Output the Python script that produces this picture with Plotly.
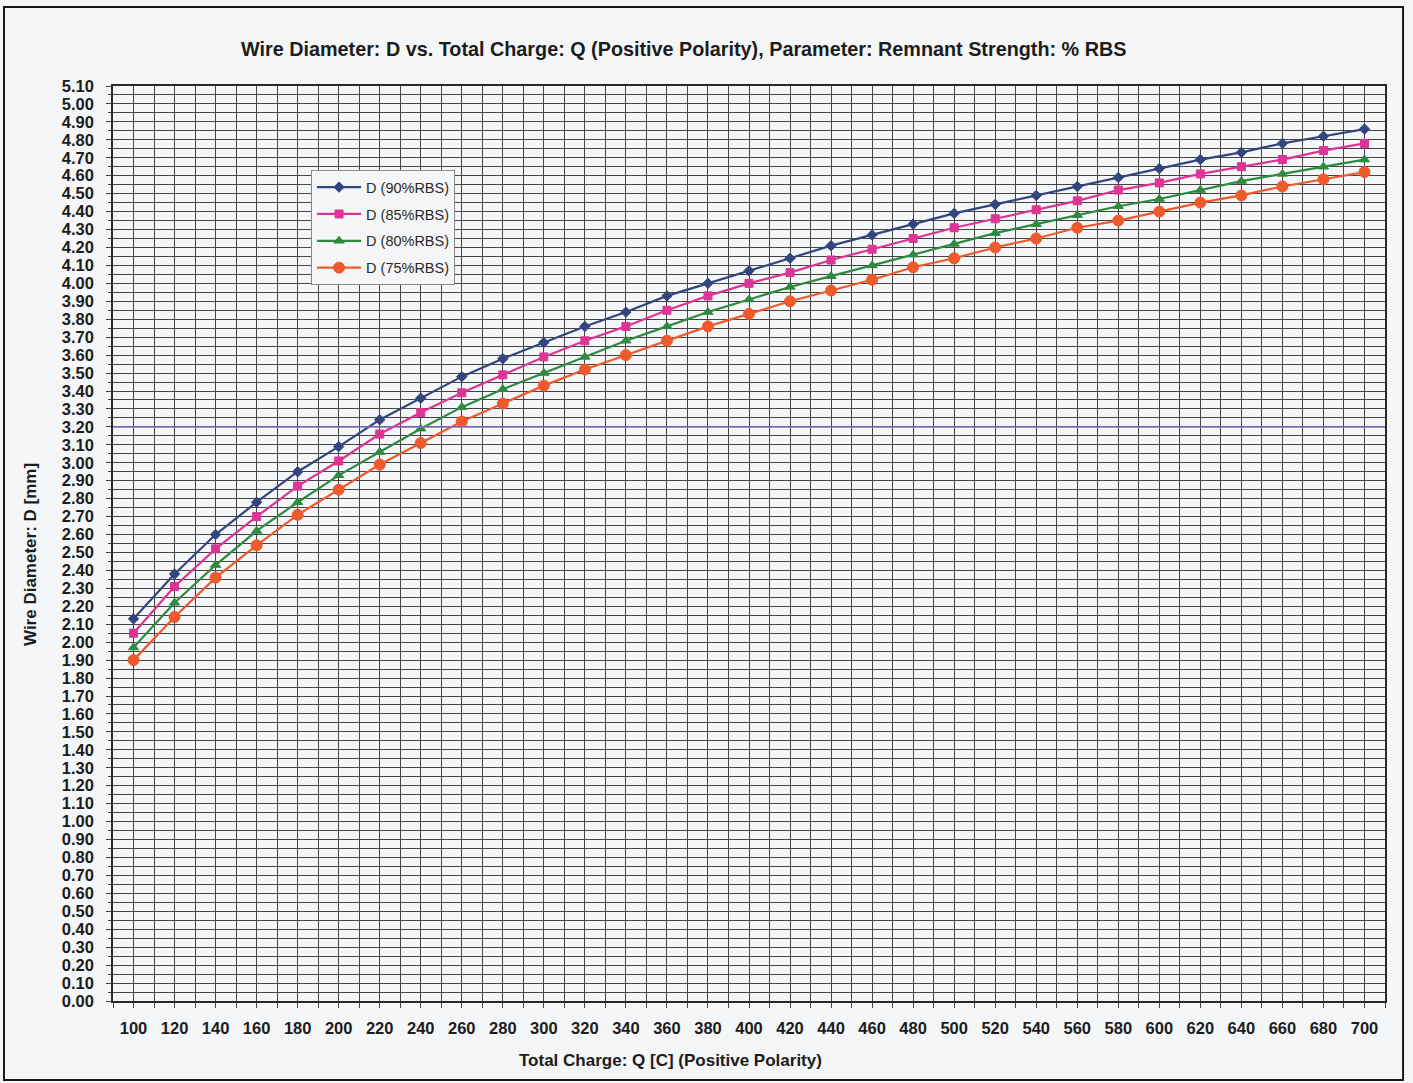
import plotly.graph_objects as go

# ---- data ----
Q = [100, 120, 140, 160, 180, 200, 220, 240, 260, 280, 300, 320, 340, 360, 380,
     400, 420, 440, 460, 480, 500, 520, 540, 560, 580, 600, 620, 640, 660, 680, 700]

D90 = [2.13, 2.38, 2.60, 2.78, 2.95, 3.09, 3.24, 3.36, 3.48, 3.58, 3.67, 3.76, 3.84, 3.93, 4.00,
       4.07, 4.14, 4.21, 4.27, 4.33, 4.39, 4.44, 4.49, 4.54, 4.59, 4.64, 4.69, 4.73, 4.78, 4.82, 4.86]
D85 = [2.05, 2.31, 2.52, 2.70, 2.87, 3.01, 3.16, 3.28, 3.39, 3.49, 3.59, 3.68, 3.76, 3.85, 3.93,
       4.00, 4.06, 4.13, 4.19, 4.25, 4.31, 4.36, 4.41, 4.46, 4.52, 4.56, 4.61, 4.65, 4.69, 4.74, 4.78]
D80 = [1.97, 2.22, 2.43, 2.62, 2.78, 2.93, 3.06, 3.19, 3.31, 3.41, 3.50, 3.59, 3.68, 3.76, 3.84,
       3.91, 3.98, 4.04, 4.10, 4.16, 4.22, 4.28, 4.33, 4.38, 4.43, 4.47, 4.52, 4.57, 4.61, 4.65, 4.69]
D75 = [1.90, 2.14, 2.36, 2.54, 2.71, 2.85, 2.99, 3.11, 3.23, 3.33, 3.43, 3.52, 3.60, 3.68, 3.76,
       3.83, 3.90, 3.96, 4.02, 4.09, 4.14, 4.20, 4.25, 4.31, 4.35, 4.40, 4.45, 4.49, 4.54, 4.58, 4.62]

SERIES_NAMES = ["D (90%RBS)", "D (85%RBS)", "D (80%RBS)", "D (75%RBS)"]
REF_D = 3.20

TITLE = "Wire Diameter: D vs. Total Charge: Q (Positive Polarity), Parameter: Remnant Strength: % RBS"
X_TITLE = "Total Charge: Q [C] (Positive Polarity)"
Y_TITLE = "Wire Diameter: D [mm]"

# ---- styles ----
COLORS = ["#33457d", "#dc3596", "#2e8a3e", "#ef5a2c"]
SYMBOLS = ["diamond", "square", "triangle-up", "circle"]
SIZES = [8, 8, 9, 11]
FONT = "Liberation Sans, Arial, sans-serif"
BG = "#f4f6f8"
GRID = "#444444"
TXT = "#1c1c1c"

fig = go.Figure()
for name, vals, c, s, sz in zip(SERIES_NAMES, [D90, D85, D80, D75], COLORS, SYMBOLS, SIZES):
    fig.add_trace(go.Scatter(
        x=Q, y=vals, name=name, mode="lines+markers", legendgroup=name,
        line=dict(color=c, width=2.2),
        marker=dict(symbol=s, size=sz, color=c, line=dict(color=c, width=1)),
    ))

fig.add_shape(type="line", xref="paper", x0=0, x1=1, yref="y", y0=REF_D, y1=REF_D,
              line=dict(color="#8670d2", width=1.5), layer="above")

# outer chart frame
fig.add_shape(type="rect", xref="paper", yref="paper",
              x0=-0.0857, x1=1.0142, y0=-0.0863, y1=1.0863,
              line=dict(color="#1a1a1a", width=2), fillcolor="rgba(0,0,0,0)")

fig.update_layout(
    width=1413, height=1083,
    margin=dict(l=113, r=28, t=86, b=82),
    paper_bgcolor=BG, plot_bgcolor=BG,
    font=dict(family=FONT, color=TXT),
    showlegend=True,
    legend=dict(
        x=0.1557, y=0.908, xanchor="left", yanchor="top",
        bgcolor="#f5f6f8", bordercolor="#8a8a8a", borderwidth=1,
        font=dict(family=FONT, size=14.5, color="#2a2a2a"),
        traceorder="grouped", tracegroupgap=5,
        itemwidth=44,
    ),
    annotations=[
        dict(text=TITLE, xref="paper", yref="paper", x=(683 - 113) / 1272, y=(1001 - 49) / 915,
             xanchor="center", yanchor="middle", showarrow=False,
             font=dict(family=FONT, size=19.8, weight="bold", color=TXT)),
        dict(text=X_TITLE, xref="paper", yref="paper", x=(670 - 113) / 1272, y=(1001 - 1060) / 915,
             xanchor="center", yanchor="middle", showarrow=False,
             font=dict(family=FONT, size=17, weight="bold", color=TXT)),
        dict(text=Y_TITLE, xref="paper", yref="paper", x=(30 - 113) / 1272, y=(1001 - 555) / 915,
             xanchor="center", yanchor="middle", showarrow=False, textangle=-90,
             font=dict(family=FONT, size=17, weight="bold", color=TXT)),
    ],
)

fig.update_xaxes(
    range=[90, 710], tick0=100, dtick=20,
    showgrid=True, gridcolor=GRID, gridwidth=1,
    ticks="outside", ticklen=5, tickcolor=GRID, ticklabelstandoff=6,
    tickfont=dict(family=FONT, size=16.5, weight="bold", color=TXT),
    minor=dict(dtick=10, tick0=90, showgrid=True, gridcolor=GRID, gridwidth=1,
               ticks="outside", ticklen=5, tickcolor=GRID),
    showline=True, linecolor="#2a2a2a", linewidth=1.5, mirror=True,
    zeroline=False,
)
fig.update_yaxes(
    range=[0, 5.10], tick0=0, dtick=0.1, tickformat=".2f",
    showgrid=True, gridcolor=GRID, gridwidth=1,
    ticks="outside", ticklen=5, tickcolor=GRID, ticklabelstandoff=9,
    tickfont=dict(family=FONT, size=16.5, weight="bold", color=TXT),
    minor=dict(dtick=0.05, showgrid=True, gridcolor=GRID, gridwidth=1,
               ticks="outside", ticklen=3, tickcolor=GRID),
    showline=True, linecolor="#2a2a2a", linewidth=1.5, mirror=True,
    zeroline=False,
)

fig.write_html(
    "out.html",
    config={"displayModeBar": False},
    post_script="document.body.style.margin='0';document.body.style.background='" + BG + "';",
)
